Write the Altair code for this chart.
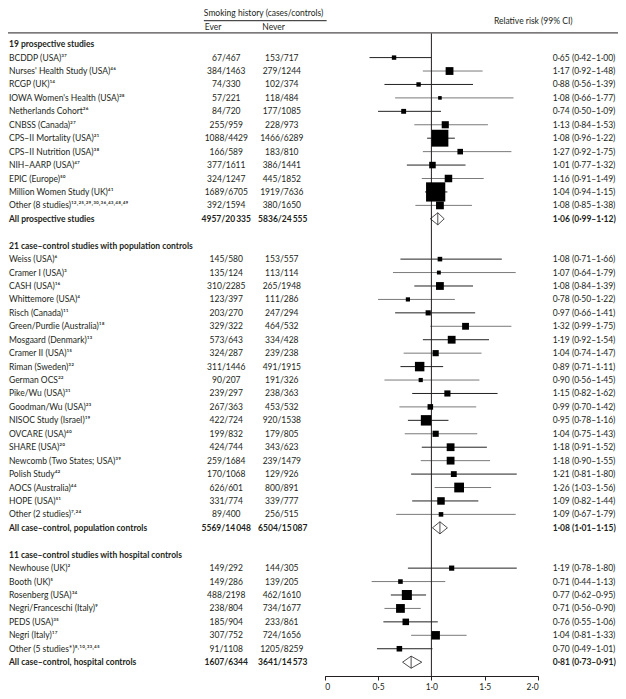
import altair as alt
import pandas as pd

SX = 610 / 626
SY = 683 / 699
FONT = "Lato"
FS = 8.5
TXT = "#231f20"

# ---------------- data ----------------
sec_headers = [
    "19 prospective studies",
    "21 case–control studies with population controls",
    "11 case–control studies with hospital controls",
]

pro_names = [
    "BCDDP (USA)³⁷", "Nurses' Health Study (USA)⁴⁶", "RCGP (UK)¹⁴",
    "IOWA Women's Health (USA)²⁸", "Netherlands Cohort²⁶", "CNBSS (Canada)²⁷",
    "CPS–II Mortality (USA)²¹", "CPS–II Nutrition (USA)³⁸", "NIH–AARP (USA)⁴⁷",
    "EPIC (Europe)⁵⁰", "Million Women Study (UK)⁴¹",
    "Other (8 studies)¹²˒²⁵˒²⁹˒³⁰˒³⁶˒⁴³˒⁴⁸˒⁴⁹",
]
pro_ever = ["67/467", "384/1463", "74/330", "57/221", "84/720", "255/959",
            "1088/4429", "166/589", "377/1611", "324/1247", "1689/6705", "392/1594"]
pro_never = ["153/717", "279/1244", "102/374", "118/484", "177/1085", "228/973",
             "1466/6289", "183/810", "386/1441", "445/1852", "1919/7636", "380/1650"]
pro_rr = [0.65, 1.17, 0.88, 1.08, 0.74, 1.13, 1.08, 1.27, 1.01, 1.16, 1.04, 1.08]
pro_lo = [0.42, 0.92, 0.56, 0.66, 0.50, 0.84, 0.96, 0.92, 0.77, 0.91, 0.94, 0.85]
pro_hi = [1.00, 1.48, 1.39, 1.77, 1.09, 1.53, 1.22, 1.75, 1.32, 1.49, 1.15, 1.38]
pro_box = [4.5, 8, 4.5, 3.7, 5, 7.3, 17.3, 5.7, 6.7, 7.7, 19.7, 8]

pop_names = [
    "Weiss (USA)⁶", "Cramer I (USA)³", "CASH (USA)¹⁶", "Whittemore (USA)⁴",
    "Risch (Canada)¹¹", "Green/Purdie (Australia)¹⁸", "Mosgaard (Denmark)¹³",
    "Cramer II (USA)¹⁵", "Riman (Sweden)³²", "German OCS²²", "Pike/Wu (USA)³¹",
    "Goodman/Wu (USA)²³", "NISOC Study (Israel)¹⁹", "OVCARE (USA)⁴⁰",
    "SHARE (USA)²⁰", "Newcomb (Two States; USA)³⁹", "Polish Study⁴²",
    "AOCS (Australia)⁴⁴", "HOPE (USA)⁵¹", "Other (2 studies)⁷˒²⁴",
]
pop_ever = ["145/580", "135/124", "310/2285", "123/397", "203/270", "329/322",
            "573/643", "324/287", "311/1446", "90/207", "239/297", "267/363",
            "422/724", "199/832", "424/744", "259/1684", "170/1068", "626/601",
            "331/774", "89/400"]
pop_never = ["153/557", "113/114", "265/1948", "111/286", "247/294", "464/532",
             "334/428", "239/238", "491/1915", "191/326", "238/363", "453/532",
             "920/1538", "179/805", "343/623", "239/1479", "129/926", "800/891",
             "339/777", "256/515"]
pop_rr = [1.08, 1.07, 1.08, 0.78, 0.97, 1.32, 1.19, 1.04, 0.89, 0.90, 1.15, 0.99,
          0.95, 1.04, 1.18, 1.18, 1.21, 1.26, 1.09, 1.09]
pop_lo = [0.71, 0.64, 0.84, 0.50, 0.66, 0.99, 0.92, 0.74, 0.71, 0.56, 0.82, 0.70,
          0.78, 0.75, 0.91, 0.90, 0.81, 1.03, 0.82, 0.67]
pop_hi = [1.66, 1.79, 1.39, 1.22, 1.41, 1.75, 1.54, 1.47, 1.11, 1.45, 1.62, 1.42,
          1.16, 1.43, 1.52, 1.55, 1.80, 1.56, 1.44, 1.79]
pop_box = [4.7, 4, 8, 4.3, 5.3, 7, 8, 6.3, 9.7, 4.3, 6.3, 5.7, 10.7, 6.3, 8, 8,
           6, 10, 7.7, 4.7]

hos_names = [
    "Newhouse (UK)²", "Booth (UK)⁵", "Rosenberg (USA)³⁴",
    "Negri/Franceschi (Italy)⁹", "PEDS (USA)³⁵", "Negri (Italy)¹⁷",
    "Other (5 studies*)⁸˒¹⁰˒³³˒⁴⁵",
]
hos_ever = ["149/292", "149/286", "488/2198", "238/804", "185/904", "307/752", "91/1108"]
hos_never = ["144/305", "139/205", "462/1610", "734/1677", "233/861", "724/1656", "1205/8259"]
hos_rr = [1.19, 0.71, 0.77, 0.71, 0.76, 1.04, 0.70]
hos_lo = [0.78, 0.44, 0.62, 0.56, 0.55, 0.81, 0.49]
hos_hi = [1.80, 1.13, 0.95, 0.90, 1.06, 1.33, 1.01]
hos_box = [5.3, 4.7, 10.3, 9, 6.7, 8.7, 5.7]

sum_labels = ["All prospective studies", "All case–control, population controls",
              "All case–control, hospital controls"]
sum_ever = ["4957/20\u2009335", "5569/14\u2009048", "1607/6344"]
sum_never = ["5836/24\u2009555", "6504/15\u2009087", "3641/14\u2009573"]
sum_rr = [1.06, 1.08, 0.81]
sum_lo = [0.99, 1.01, 0.73]
sum_hi = [1.12, 1.15, 0.91]

tick_values = [0, 0.5, 1.0, 1.5, 2.0]


def fmt(v):
    return f"{v:.2f}".replace(".", "·")


# ---------------- tables ----------------
sections = [
    (pro_names, pro_ever, pro_never, pro_rr, pro_lo, pro_hi, pro_box),
    (pop_names, pop_ever, pop_never, pop_rr, pop_lo, pop_hi, pop_box),
    (hos_names, hos_ever, hos_never, hos_rr, hos_lo, hos_hi, hos_box),
]
text_rows = []
study_rows = []
sum_rows = []
diam = []
r = 0
for si, (names, ev, nv, rr, lo, hi, box) in enumerate(sections):
    text_rows.append(dict(row=r, label=sec_headers[si], kind="header", ever="", never="", ci=""))
    r += 1
    for i in range(len(names)):
        ci = f"{fmt(rr[i])} ({fmt(lo[i])}–{fmt(hi[i])})"
        text_rows.append(dict(row=r, label=names[i], kind="study", ever=ev[i], never=nv[i], ci=ci))
        study_rows.append(dict(row=r, rr=rr[i], lo=lo[i], hi=hi[i], box=box[i] ** 2,
                               shade=str(i % 2)))
        r += 1
    ci = f"{fmt(sum_rr[si])} ({fmt(sum_lo[si])}–{fmt(sum_hi[si])})"
    text_rows.append(dict(row=r, label=sum_labels[si], kind="summary", ever=sum_ever[si],
                          never=sum_never[si], ci=ci))
    h = 0.45
    sum_rows.append(dict(row=r, rr=sum_rr[si], top=r - h, bot=r + h))
    pts = [(sum_lo[si], r), (sum_rr[si], r - h), (sum_hi[si], r), (sum_rr[si], r + h),
           (sum_lo[si], r)]
    for k, (xv, yv) in enumerate(pts):
        diam.append(dict(g=si, o=k, x=xv, y=yv))
    r += 2

df = pd.DataFrame(text_rows)
studies = pd.DataFrame(study_rows)
summ = pd.DataFrame(sum_rows)
dd = pd.DataFrame(diam)
ticks_df = pd.DataFrame({"v": tick_values})

# ---------------- scales ----------------
xs = alt.Scale(domain=[0, 2], range=[325 * SX, 544 * SX], nice=False, zero=False)
ys = alt.Scale(domain=[0, 46], range=[37 * SY, (37 + 13.75 * 46) * SY], nice=False, zero=False)
XAXIS = alt.Axis(
    values=tick_values, title=None, grid=False, domainColor=TXT,
    tickColor=TXT, tickSize=4, labelFont=FONT, labelFontSize=FS,
    labelColor=TXT, labelPadding=2,
    labelExpr="datum.value == 0 ? '0' : replace(format(datum.value, '.1f'), '.', '·')")


def Yf(field):
    return alt.Y(f"{field}:Q", scale=ys, axis=None)


def Xf(field):
    return alt.X(f"{field}:Q", scale=xs, axis=XAXIS)


base = alt.Chart(df)


def col_text(flt, field, xpx, align, bold=False):
    kw = dict(align=align, baseline="middle", font=FONT, fontSize=FS, color=TXT)
    if bold:
        kw["fontWeight"] = "bold"
    return base.transform_filter(flt).mark_text(**kw).encode(
        x=alt.value(xpx), y=Yf("row"), text=f"{field}:N")


lab_norm = col_text("datum.kind == 'study'", "label", 1 * SX, "left")
lab_bold = col_text("datum.kind != 'study'", "label", 1 * SX, "left", True)
ever_t = col_text("datum.kind == 'study'", "ever", 224 * SX, "center")
never_t = col_text("datum.kind == 'study'", "never", 281 * SX, "center")
ever_b = col_text("datum.kind == 'summary'", "ever", 224 * SX, "center", True)
never_b = col_text("datum.kind == 'summary'", "never", 282 * SX, "center", True)
ci_t = col_text("datum.kind == 'study'", "ci", 559 * SX, "left")
ci_b = col_text("datum.kind == 'summary'", "ci", 559 * SX, "left", True)

ci_lines = alt.Chart(studies).mark_rule(strokeWidth=1).encode(
    x=Xf("lo"),
    x2="hi:Q",
    y=Yf("row"),
    color=alt.Color("shade:N", scale=alt.Scale(domain=["0", "1"], range=["#222222", "#7a7a7a"]),
                    legend=None),
)

boxes = alt.Chart(studies).mark_square(filled=True, opacity=1, color="black").encode(
    x=Xf("rr"),
    y=Yf("row"),
    size=alt.Size("box:Q", scale=alt.Scale(domain=[0, 400], range=[0, 400 * SX * SY]),
                  legend=None),
)

ref_line = alt.Chart(ticks_df).transform_filter("datum.v == 1").mark_rule(
    color=TXT, strokeWidth=1
).encode(x=Xf("v"), y=alt.value(26 * SY), y2=alt.value(684 * SY))

diamonds = alt.Chart(dd).mark_line(color=TXT, strokeWidth=0.8).encode(
    x=Xf("x"),
    y=Yf("y"),
    detail="g:N",
    order="o:Q",
)
dia_mid = alt.Chart(summ).mark_rule(color=TXT, strokeWidth=0.8).encode(
    x=Xf("rr"),
    y=Yf("top"),
    y2="bot:Q",
)


def hdr_text(t, xpx, ypx, align):
    return alt.Chart(ticks_df).transform_filter("datum.v == 0").mark_text(
        text=t, align=align, baseline="middle", font=FONT, fontSize=FS, color=TXT
    ).encode(x=alt.value(xpx), y=alt.value(ypx))


h_smoke = hdr_text("Smoking history (cases/controls)", 201 * SX, 5 * SY, "left")
h_ever = hdr_text("Ever", 202 * SX, 19.5 * SY, "left")
h_never = hdr_text("Never", 261 * SX, 19.5 * SY, "left")
h_rr = hdr_text("Relative risk (99% CI)", 539 * SX, 13.5 * SY, "center")

underline = alt.Chart(ticks_df).transform_filter("datum.v == 0").mark_rule(
    color=TXT, strokeWidth=1
).encode(x=alt.value(201 * SX), x2=alt.value(327 * SX), y=alt.value(13 * SY))
top_rule = alt.Chart(ticks_df).transform_filter("datum.v == 0").mark_rule(
    color=TXT, strokeWidth=1
).encode(x=alt.value(0), x2=alt.value(610), y=alt.value(25.5 * SY))

chart = alt.layer(
    ci_lines, ref_line, boxes, diamonds, dia_mid,
    lab_norm, lab_bold, ever_t, never_t, ever_b, never_b, ci_t, ci_b,
    h_smoke, h_ever, h_never, h_rr, underline, top_rule,
).properties(
    width=610, height=int(684 * SY),
    autosize=alt.AutoSizeParams(type="none"),
    padding={"left": 0, "top": 0, "right": 0, "bottom": 16},
).configure_view(strokeWidth=0)

chart.save("out.html", embed_options={"renderer": "svg", "actions": False})
